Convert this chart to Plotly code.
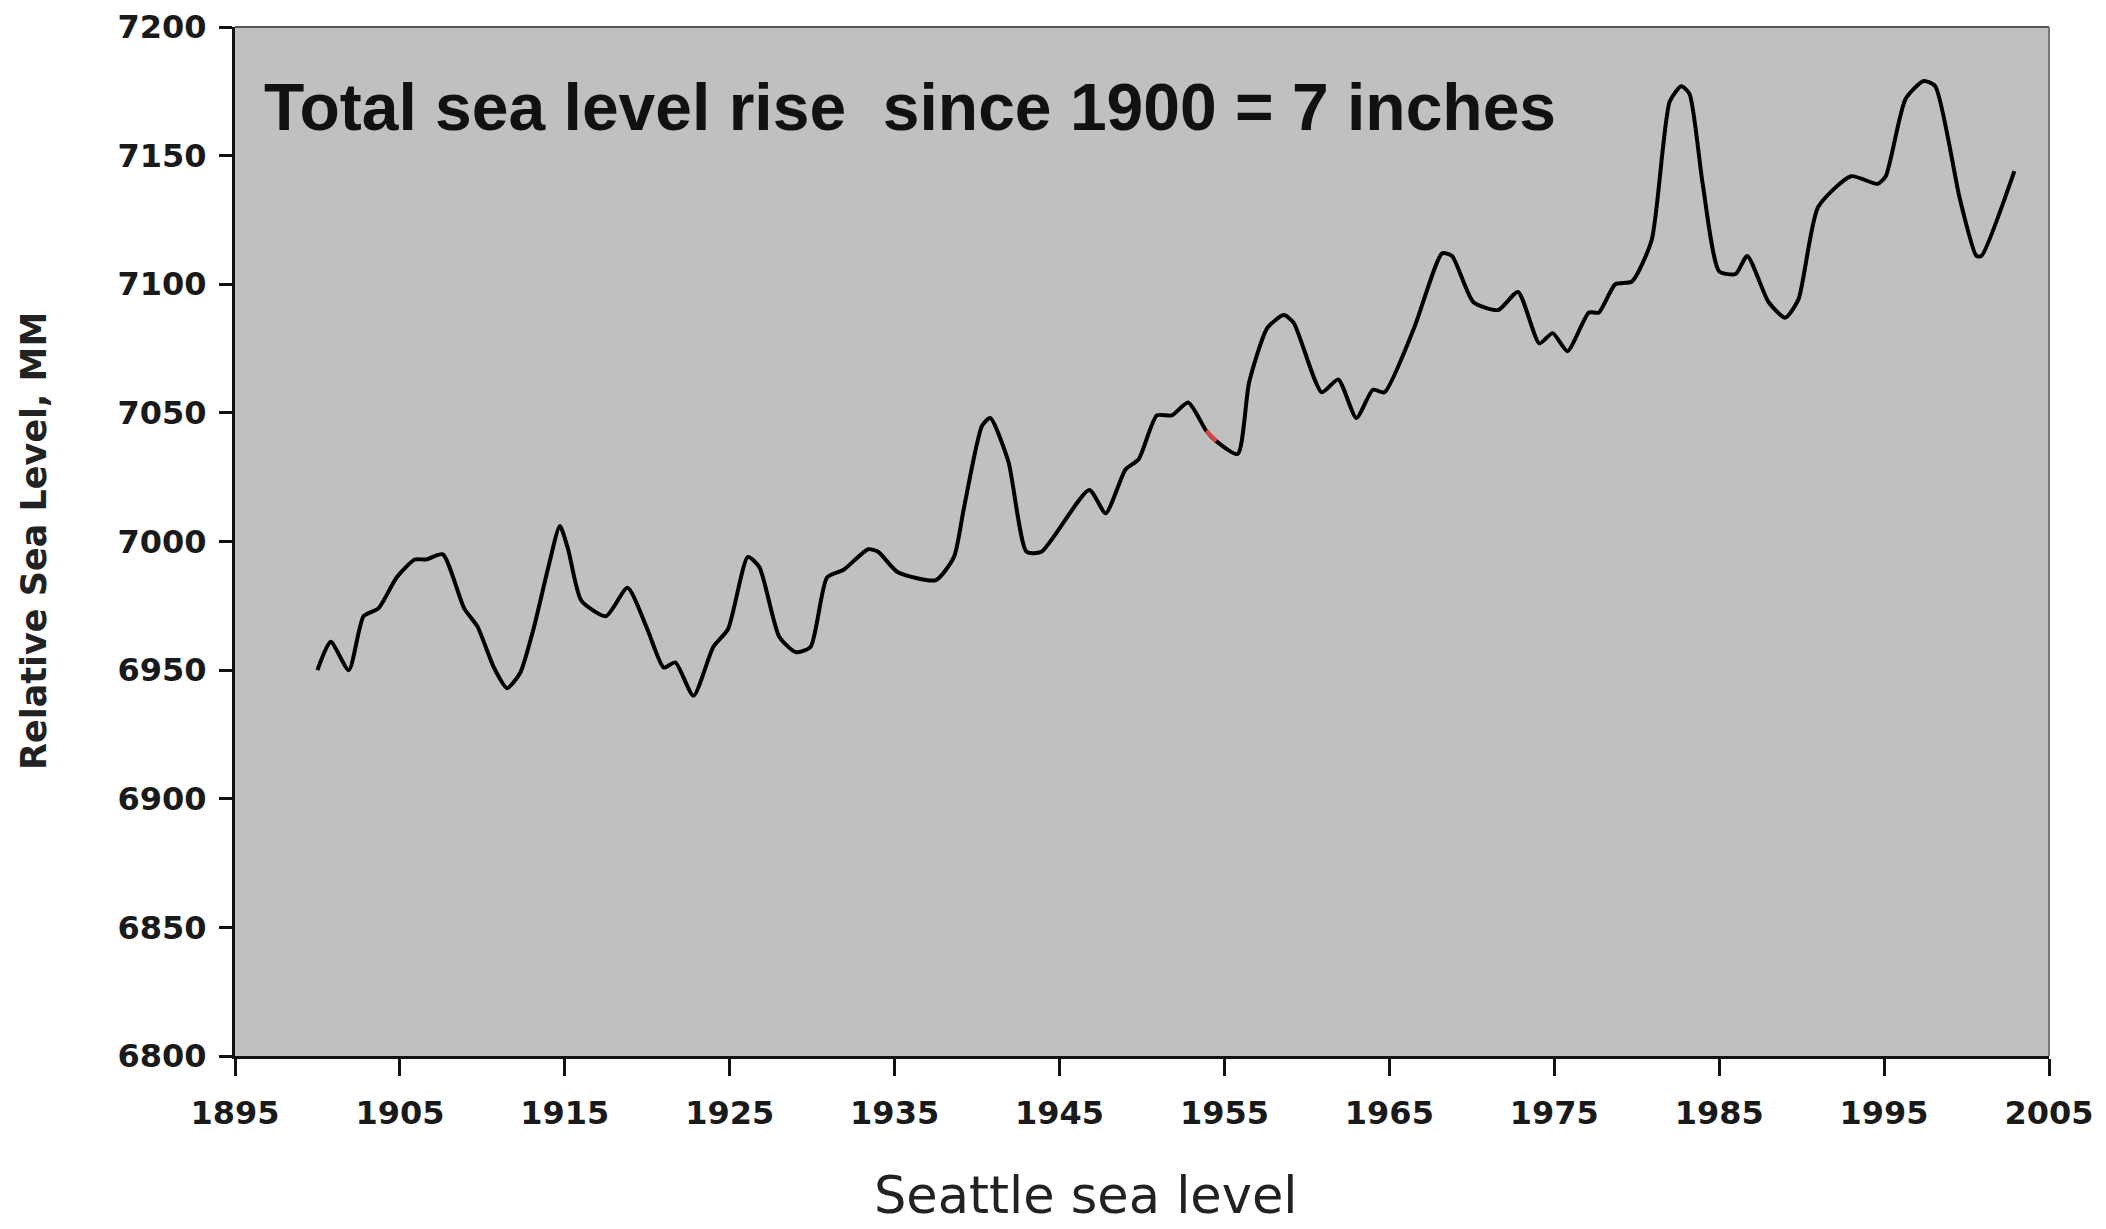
import plotly.graph_objects as go

years = [1900.0, 1900.8, 1901.9, 1902.8, 1903.7, 1904.8, 1905.9, 1906.6, 1907.6, 1908.9,
         1909.7, 1910.7, 1911.5, 1912.3, 1913.1, 1914.0, 1914.7, 1915.2, 1916.0, 1917.5,
         1918.8, 1920.0, 1921.0, 1921.7, 1922.8, 1924.0, 1924.9, 1926.1, 1926.8, 1928.0,
         1929.0, 1929.9, 1930.9, 1931.9, 1933.4, 1934.0, 1935.2, 1937.5, 1938.6, 1939.2,
         1940.3, 1940.8, 1941.9, 1943.0, 1943.9, 1946.8, 1947.8, 1949.0, 1949.8, 1950.9,
         1951.8, 1952.8, 1953.9, 1954.5, 1955.8, 1956.5, 1957.6, 1958.6, 1959.2, 1960.9,
         1961.9, 1963.0, 1964.0, 1964.7, 1966.5, 1968.2, 1968.8, 1970.1, 1971.6, 1972.8,
         1974.1, 1974.9, 1975.8, 1977.1, 1977.7, 1978.7, 1979.7, 1980.9, 1982.0, 1982.7,
         1983.2, 1984.0, 1985.0, 1986.0, 1986.7, 1988.0, 1989.0, 1989.8, 1991.0, 1993.0,
         1994.6, 1995.1, 1996.3, 1997.4, 1998.1, 1999.6, 2000.6, 2000.9, 2002.9]
sea_level_mm = [6950, 6961, 6950, 6971, 6974, 6986, 6993, 6993, 6995, 6974,
                6967, 6951, 6943, 6949, 6966, 6990, 7006, 6997, 6977, 6971,
                6982, 6966, 6951, 6953, 6940, 6959, 6966, 6994, 6990, 6963,
                6957, 6959, 6986, 6989, 6997, 6996, 6988, 6985, 6994, 7013,
                7045, 7048, 7031, 6996, 6996, 7020, 7011, 7028, 7032, 7049,
                7049, 7054, 7043, 7039, 7034, 7062, 7083, 7088, 7085, 7058,
                7063, 7048, 7059, 7058, 7083, 7112, 7111, 7093, 7090, 7097,
                7077, 7081, 7074, 7089, 7089, 7100, 7101, 7117, 7171, 7177,
                7174, 7139, 7105, 7104, 7111, 7093, 7087, 7094, 7130, 7142,
                7139, 7142, 7172, 7179, 7177, 7133, 7111, 7111, 7144]

# small reddish artifact on the line
red_years = [1953.9, 1954.5]
red_values = [7043, 7039]

x_ticks = [1895, 1905, 1915, 1925, 1935, 1945, 1955, 1965, 1975, 1985, 1995, 2005]
y_ticks = [6800, 6850, 6900, 6950, 7000, 7050, 7100, 7150, 7200]

annotation_text = "Total sea level rise \u00a0since 1900 = 7 inches"
x_title = "Seattle sea level"
y_title = "Relative Sea Level, MM"

fig = go.Figure()
fig.add_trace(go.Scatter(x=years, y=sea_level_mm, mode="lines",
                         line=dict(color="black", width=4, shape="spline", smoothing=0.6),
                         showlegend=False, hoverinfo="x+y"))
fig.add_trace(go.Scatter(x=red_years, y=red_values, mode="lines",
                         line=dict(color="#e04040", width=4),
                         showlegend=False, hoverinfo="skip"))

tick_font = dict(family="DejaVu Sans", size=32, color="#1a1a1a", weight="bold")

fig.update_layout(
    width=2098, height=1221,
    margin=dict(l=227, r=57, t=19, b=173, pad=0),
    paper_bgcolor="white",
    plot_bgcolor="#c0c0c0",
    xaxis=dict(range=[1895, 2005], tickvals=x_ticks, ticktext=[str(v) for v in x_ticks],
               automargin=False,
               showgrid=False, zeroline=False, showline=True, linecolor="#111", linewidth=3,
               ticks="outside", ticklen=17, tickwidth=3, tickcolor="#111",
               tickfont=tick_font, ticklabelstandoff=10),
    yaxis=dict(range=[6800, 7200], tickvals=y_ticks, ticktext=[str(v) for v in y_ticks],
               automargin=False,
               showgrid=False, zeroline=False, showline=True, linecolor="#111", linewidth=3,
               ticks="outside", ticklen=13, tickwidth=3, tickcolor="#111",
               tickfont=tick_font, ticklabelstandoff=6),
    shapes=[
        dict(type="line", xref="paper", yref="paper", x0=0, x1=1, y0=1, y1=1,
             line=dict(color="#555", width=2)),
        dict(type="line", xref="paper", yref="paper", x0=1, x1=1, y0=0, y1=1,
             line=dict(color="#777", width=2)),
    ],
    annotations=[
        dict(text=annotation_text, xref="paper", yref="paper", x=0.0149, y=0.922,
             xanchor="left", yanchor="middle", showarrow=False,
             font=dict(family="Liberation Sans", size=66, color="#111", weight="bold")),
        dict(text=x_title, xref="paper", yref="paper", x=0.4686, y=-0.136,
             xanchor="center", yanchor="middle", showarrow=False,
             font=dict(family="DejaVu Sans", size=51, color="#222")),
        dict(text=y_title, xref="paper", yref="paper", x=-0.1108, y=0.5005,
             xanchor="center", yanchor="middle", showarrow=False, textangle=-90,
             font=dict(family="DejaVu Sans", size=35, color="#222", weight="bold")),
    ],
)

fig.write_html("out.html")
